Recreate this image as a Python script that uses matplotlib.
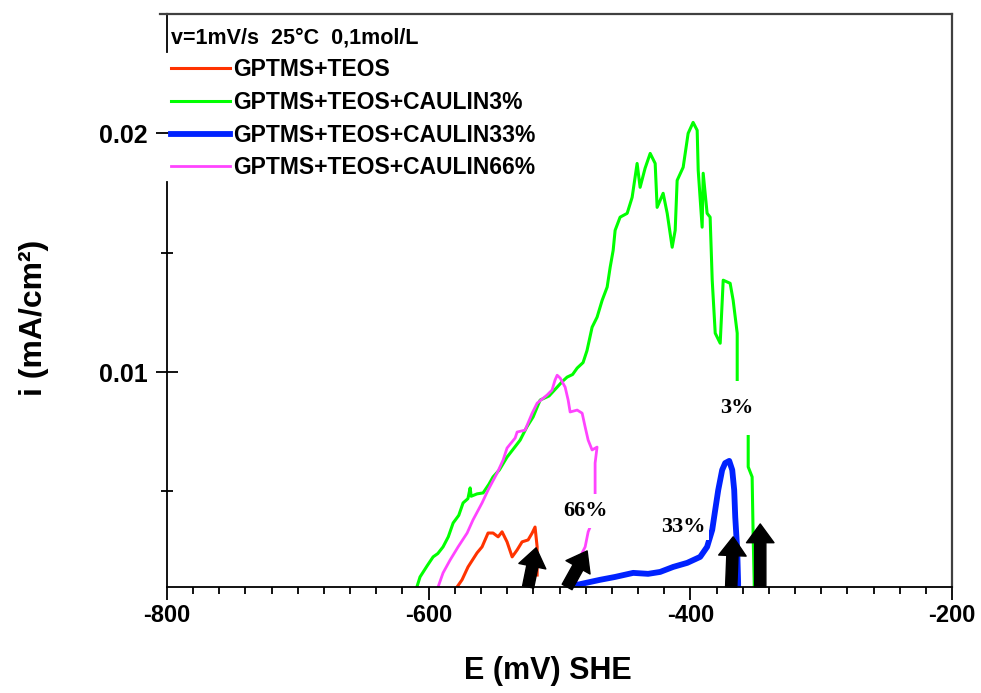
import matplotlib.pyplot as plt
from matplotlib.ticker import MultipleLocator, FixedLocator

plt.rcParams['font.family'] = ['Liberation Sans', 'DejaVu Sans']
plt.rcParams['font.weight'] = 'bold'

# potentiel E (mV/SHE) et densite de courant i (mA/cm2)
e_teos = [-578.3, -574.5, -569.9, -563.0, -559.2, -554.6, -550.8, -546.9, -543.9,
          -540.1, -536.2, -532.4, -528.6, -524.0, -520.9, -518.7, -517.1, -517.1]
i_teos = [0.0010, 0.00130, 0.00184, 0.00243, 0.00268, 0.00326, 0.00326, 0.00310, 0.00331,
          0.00289, 0.00226, 0.00255, 0.00289, 0.00297, 0.00326, 0.00351, 0.00268, 0.0015]

e_3 = [-609.0, -606.6, -601.0, -596.6, -593.0, -589.0, -585.0, -581.3, -577.0, -573.7,
       -570.0, -568.3, -567.5, -563.0, -558.4, -554.0, -550.8, -546.0, -540.1, -535.0,
       -530.1, -525.0, -520.2, -514.8, -508.0, -501.8, -498.0, -494.2, -490.0, -486.5,
       -482.0, -479.0, -477.0, -475.1, -471.3, -467.4, -463.6, -461.3, -459.0, -457.5,
       -453.7, -448.3, -444.5, -440.7, -438.4, -434.6, -430.7, -426.9, -425.4, -420.8,
       -417.7, -413.9, -411.6, -410.1, -405.5, -401.7, -397.9, -394.8, -394.0, -391.0,
       -390.2, -387.2, -384.9, -383.3, -381.0, -377.2, -374.9, -369.6, -367.3, -364.2,
       -364.2, -364.2, -355.8, -355.8, -352.8, -352.0, -351.2, -351.2]
i_3 = [0.0010, 0.00142, 0.0019, 0.00226, 0.0024, 0.00268, 0.0031, 0.00368, 0.0040, 0.00452,
       0.0047, 0.00515, 0.0048, 0.0049, 0.00494, 0.0053, 0.00561, 0.0059, 0.00644, 0.0068,
       0.00715, 0.0077, 0.00812, 0.00883, 0.0090, 0.00937, 0.0096, 0.00979, 0.0099, 0.01017,
       0.0104, 0.0109, 0.0114, 0.01188, 0.01230, 0.01301, 0.01356, 0.01439, 0.01510, 0.01594,
       0.01649, 0.01665, 0.01732, 0.01874, 0.01774, 0.01854, 0.01916, 0.01874, 0.01690, 0.01749,
       0.01665, 0.01523, 0.01594, 0.01803, 0.01858, 0.02000, 0.02046, 0.02013, 0.01845, 0.01607,
       0.01833, 0.01665, 0.01649, 0.01385, 0.01163, 0.01121, 0.01385, 0.01372, 0.01301, 0.01163,
       0.00954, 0.00757, 0.00757, 0.00603, 0.00561, 0.00310, 0.00117, 0.0010]

e_33 = [-486.5, -476.6, -469.0, -457.5, -443.7, -432.3, -423.1, -413.1, -402.4, -392.5,
        -387.2, -383.3, -381.0, -378.7, -375.7, -373.4, -370.3, -368.0, -366.5, -365.7,
        -364.2, -363.5, -363.5]
i_33 = [0.00109, 0.00121, 0.00130, 0.00142, 0.00159, 0.00155, 0.00163, 0.00184, 0.00201, 0.00226,
        0.00268, 0.00339, 0.00423, 0.00506, 0.00590, 0.00619, 0.00628, 0.00590, 0.00506, 0.00393,
        0.00255, 0.00117, 0.0010]

e_66 = [-592.8, -589.0, -583.6, -577.5, -570.6, -566.1, -559.2, -554.6, -547.7, -543.1,
        -540.1, -533.9, -532.4, -526.3, -520.9, -517.1, -509.5, -505.7, -503.4, -501.8,
        -499.5, -495.7, -493.4, -491.9, -486.5, -482.7, -480.4, -478.1, -475.1, -471.3,
        -472.8, -472.8, -472.8, -478.1, -480.4, -482.7, -488.1]
i_66 = [0.0010, 0.00159, 0.00213, 0.00268, 0.00326, 0.00381, 0.00452, 0.00506, 0.00577, 0.00632,
        0.00682, 0.00724, 0.00749, 0.00757, 0.00828, 0.00870, 0.00904, 0.00925, 0.00967, 0.00987,
        0.00975, 0.00937, 0.00883, 0.00833, 0.00841, 0.00828, 0.00770, 0.00715, 0.00674, 0.00686,
        0.00619, 0.00452, 0.00402, 0.00331, 0.00268, 0.00243, 0.0010]

labels = ['GPTMS+TEOS', 'GPTMS+TEOS+CAULIN3%', 'GPTMS+TEOS+CAULIN33%', 'GPTMS+TEOS+CAULIN66%']

# etiquettes sur le graphe
tag_text = ['3%', '33%', '66%']
tag_e = [-364.2, -405.5, -480.4]
tag_i = [0.00849, 0.00352, 0.00418]

# fleches (base -> pointe)
arrow_base = [(-524.0, 0.001), (-494.2, 0.001), (-368.8, 0.001), (-346.6, 0.001)]
arrow_tip = [(-517.9, 0.00264), (-478.9, 0.00251), (-367.3, 0.00310), (-346.6, 0.00364)]

xticks = [-800, -600, -400, -200]
xtick_labels = ['-800', '-600', '-400', '-200']
yticks = [0.01, 0.02]
yticks_minor = [0.005, 0.015]

fig = plt.figure(figsize=(9.81, 6.93), dpi=100)
ax = fig.add_axes([0.1702, 0.1530, 0.8003, 0.8268])

ax.plot(e_3, i_3, color='#00ff00', lw=2.2, label=labels[1], zorder=2)
ax.plot(e_66, i_66, color='#ff44ff', lw=2.0, label=labels[3], zorder=2.1)
ax.plot(e_teos, i_teos, color='#ff3300', lw=2.2, label=labels[0], zorder=2.2)
ax.plot(e_33, i_33, color='#0022ff', lw=4.2, label=labels[2], zorder=2.3)

pads = [0.75, 0.15, 0.3]
for t, x, y, p in zip(tag_text, tag_e, tag_i, pads):
    ax.text(x, y, t, ha='center', va='center', fontsize=16, family='Liberation Serif',
            weight='bold', zorder=3,
            bbox=dict(boxstyle='square,pad=%s' % p, facecolor='white', edgecolor='none'))

for b, t in zip(arrow_base, arrow_tip):
    ax.annotate('', xy=t, xytext=b, annotation_clip=False, zorder=6,
                arrowprops=dict(arrowstyle='simple,head_width=1.1,head_length=0.75,tail_width=0.45',
                                mutation_scale=18, color='black', shrinkA=0, shrinkB=0))

ax.set_xlim(-800, -200)
ax.set_ylim(0.001, 0.025)

ax.set_xticks(xticks)
ax.set_xticklabels(xtick_labels)
ax.xaxis.set_minor_locator(MultipleLocator(20))
ax.set_yticks(yticks)
ax.set_yticklabels(['0.01', '0.02'])
ax.yaxis.set_minor_locator(FixedLocator(yticks_minor))

ax.tick_params(axis='x', which='major', direction='out', length=9, width=1.3, labelsize=17, pad=3)
ax.tick_params(axis='x', which='minor', direction='out', length=5, width=1.3)
ax.tick_params(axis='y', which='major', direction='inout', length=16, width=1.3, labelsize=18, pad=6)
ax.tick_params(axis='y', which='minor', direction='inout', length=8, width=1.3)

for s in ['top', 'right']:
    ax.spines[s].set_color('#404040')
    ax.spines[s].set_linewidth(1.6)
ax.spines['bottom'].set_linewidth(1.3)
ax.spines['left'].set_linewidth(1.3)
ax.spines['left'].set_bounds(0.001, 0.01795)
ax.axvline(-800, ymin=0.934, ymax=1.0, color='black', lw=1.3, clip_on=False)
ax.plot([-0.009, 0], [1, 1], transform=ax.transAxes, color='#404040', lw=1.6, clip_on=False)

ax.set_xlabel('E (mV) SHE', fontsize=22, fontweight='bold')
ax.xaxis.set_label_coords(0.485, -0.12)
ax.set_ylabel('i (mA/cm²)', fontsize=23, fontweight='bold')
ax.yaxis.set_label_coords(-0.15, 0.47)

handles, labs = ax.get_legend_handles_labels()
order = [2, 0, 3, 1]
leg = ax.legend([handles[k] for k in order], [labs[k] for k in order],
                loc='upper left', bbox_to_anchor=(0.002, 0.980),
                title='v=1mV/s  25°C  0,1mol/L', alignment='left',
                fontsize=16.5, title_fontproperties={'weight': 'bold', 'size': 15.5},
                frameon=True, facecolor='white', edgecolor='none', framealpha=1,
                borderpad=0.1, borderaxespad=0, handlelength=2.6, handletextpad=0.1,
                labelspacing=0.42)

plt.savefig('out.png', dpi=100)
